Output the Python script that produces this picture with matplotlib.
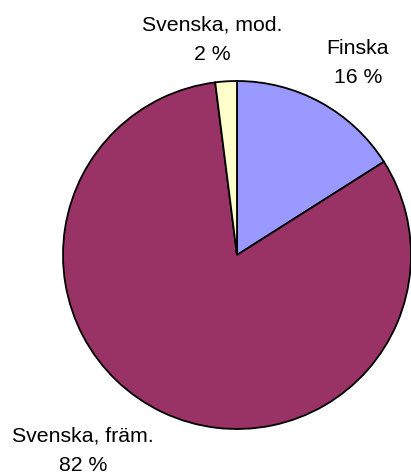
import matplotlib.pyplot as plt

# language shares
labels = ['Finska', 'Svenska, främ.', 'Svenska, mod.']
shares = [16, 82, 2]
colors = ['#9999FF', '#993366', '#FFFFCC']

# label anchor points (pixel coords, top-left origin)
label_pos = [(358, 63), (83, 451), (212, 40)]

fig = plt.figure(figsize=(4.11, 4.75), dpi=100)
ax = fig.add_axes([0, 0, 1, 1])
ax.axis('off')

H = 475
ax.pie(shares, colors=colors, startangle=90, counterclock=False,
       center=(237, H - 255), radius=174,
       wedgeprops=dict(edgecolor='black', linewidth=1.3))
ax.set_xlim(0, 411)
ax.set_ylim(0, 475)
ax.set_aspect('equal')

for lab, val, (x, y) in zip(labels, shares, label_pos):
    ax.text(x, H - y, '%s\n%d %%' % (lab, val), ha='center', va='center',
            fontsize=15.3, family='Liberation Sans', linespacing=1.7)

fig.savefig('out.png', dpi=100)
